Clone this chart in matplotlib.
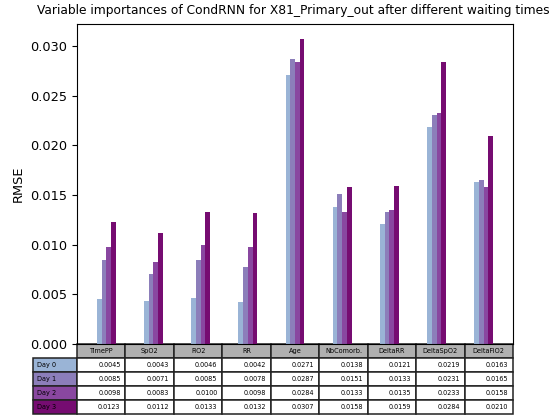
import numpy as np
import matplotlib
matplotlib.use("Agg")
import matplotlib.pyplot as plt
from matplotlib.table import Table

variables = ["TimePP", "SpO2", "FiO2", "RR", "Age", "NbComorb.",
             "DeltaRR", "DeltaSpO2", "DeltaFiO2"]
days = ["Day 0", "Day 1", "Day 2", "Day 3"]

day0 = [0.0045, 0.0043, 0.0046, 0.0042, 0.0271, 0.0138, 0.0121, 0.0219, 0.0163]
day1 = [0.0085, 0.0071, 0.0085, 0.0078, 0.0287, 0.0151, 0.0133, 0.0231, 0.0165]
day2 = [0.0098, 0.0083, 0.0100, 0.0098, 0.0284, 0.0133, 0.0135, 0.0233, 0.0158]
day3 = [0.0123, 0.0112, 0.0133, 0.0132, 0.0307, 0.0158, 0.0159, 0.0284, 0.0210]
series = [day0, day1, day2, day3]

colors = plt.cm.BuPu(np.linspace(0.4, 0.9, len(days)))

fig = plt.figure(figsize=(5.5, 4.17), dpi=100)
ax = fig.add_axes([77 / 550, 1 - 344 / 417, 436 / 550, 320 / 417])

bar_width = 0.1
index = np.arange(len(variables))
for j, vals in enumerate(series):
    ax.bar(index + j * bar_width, vals, bar_width, color=colors[j])

ax.set_xticks([])
ax.set_yticks([0.0, 0.005, 0.010, 0.015, 0.020, 0.025, 0.030])
ax.set_yticklabels([f"{v:.3f}" for v in ax.get_yticks()], fontsize=9.3)
ax.set_ylabel("RMSE", fontsize=9.3)
ax.set_title("Variable importances of CondRNN for X81_Primary_out after "
             "different waiting times", fontsize=8.8, pad=7, x=0.495)

# Table of values under the bars; the row-label column sits left of the axes
ncols = len(variables)
label_w = 44 / 436
col_w = 1.0 / ncols
row_h = 1.0
tbl = Table(ax, bbox=[0, -70 / 320, 1, 70 / 320])
header_color = "#b0b0b0"
for c, name in enumerate(variables):
    tbl.add_cell(0, c, col_w, row_h, text=name, loc="center",
                 facecolor=header_color)
for r, (day, vals) in enumerate(zip(days, series), start=1):
    tbl.add_cell(r, -1, label_w, row_h, text=day, loc="left",
                 facecolor=colors[r - 1])
    for c, v in enumerate(vals):
        tbl.add_cell(r, c, col_w, row_h, text=f"{v:.4f}", loc="right",
                     facecolor="white")
tbl.auto_set_font_size(False)
tbl.set_fontsize(4.7)
for cell in tbl.get_celld().values():
    cell.set_linewidth(1.1)
    cell.set_edgecolor("#222222")
ax.add_table(tbl)

fig.savefig("out.png", dpi=100)
